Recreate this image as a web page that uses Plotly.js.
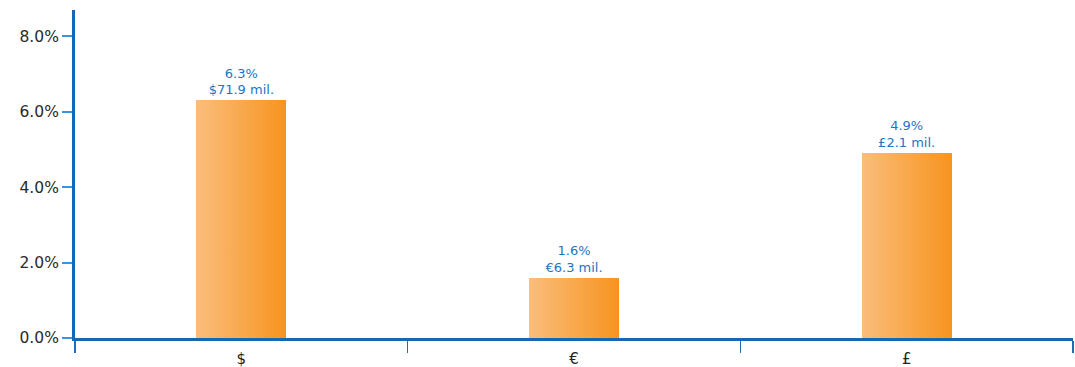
<!DOCTYPE html>
<html>
<head>
<meta charset="utf-8">
<script src="https://cdn.plot.ly/plotly-3.0.1.min.js"></script>
<style>html,body{margin:0;padding:0;background:#fff;}#chart{width:1075px;height:367px;}</style>
</head>
<body>
<div id="chart"></div>
<script>
const categories = ["$", "€", "£"];
const percentValues = [6.3, 1.6, 4.9];
const amountLabels = ["$71.9 mil.", "€6.3 mil.", "£2.1 mil."];

const labels = percentValues.map((v, i) => v.toFixed(1) + "%<br>" + amountLabels[i]);

const trace = {
  type: "bar",
  x: categories,
  y: percentValues,
  width: 0.27,
  text: labels,
  textposition: "outside",
  cliponaxis: false,
  textfont: {family: "DejaVu Sans, sans-serif", size: 13, color: "#1f74bf"},
  marker: {color: "#f9a94a", line: {width: 0}},
  hoverinfo: "none"
};

const layout = {
  width: 1075,
  height: 367,
  margin: {l: 75, r: 2, t: 10, b: 29},
  paper_bgcolor: "#ffffff",
  plot_bgcolor: "#ffffff",
  showlegend: false,
  bargap: 0,
  xaxis: {
    type: "category",
    range: [-0.5, 2.5],
    tickson: "boundaries",
    ticks: "outside",
    ticklen: 12,
    tickwidth: 1.5,
    tickcolor: "#1f6fb8",
    ticklabelstandoff: 5,
    showline: true,
    linecolor: "#1668b4",
    linewidth: 3,
    showgrid: false,
    zeroline: false,
    tickfont: {family: "DejaVu Sans, sans-serif", size: 15, color: "#222222"}
  },
  yaxis: {
    range: [0, 8.7],
    dtick: 2,
    tick0: 0,
    tickformat: ".1f",
    ticksuffix: "%",
    ticks: "outside",
    ticklen: 10,
    tickwidth: 2,
    tickcolor: "#3d93d8",
    showline: true,
    linecolor: "#1668b4",
    linewidth: 3,
    showgrid: false,
    zeroline: false,
    tickfont: {family: "DejaVu Sans, sans-serif", size: 15.5, color: "#2a2a2a"}
  }
};

Plotly.newPlot("chart", [trace], layout, {displayModeBar: false, staticPlot: true}).then(function (gd) {
  const svg = gd.querySelector("svg.main-svg");
  const ns = "http://www.w3.org/2000/svg";
  let defs = svg.querySelector("defs");
  if (!defs) { defs = document.createElementNS(ns, "defs"); svg.insertBefore(defs, svg.firstChild); }
  const grad = document.createElementNS(ns, "linearGradient");
  grad.setAttribute("id", "barGrad");
  grad.setAttribute("x1", "0"); grad.setAttribute("y1", "0");
  grad.setAttribute("x2", "1"); grad.setAttribute("y2", "0");
  [["0", "#fbbd7b"], ["1", "#f7941f"]].forEach(function (s) {
    const st = document.createElementNS(ns, "stop");
    st.setAttribute("offset", s[0]);
    st.setAttribute("stop-color", s[1]);
    grad.appendChild(st);
  });
  defs.appendChild(grad);
  gd.querySelectorAll(".bars .point path").forEach(function (p) {
    p.style.fill = "url(#barGrad)";
  });
});
</script>
</body>
</html>
